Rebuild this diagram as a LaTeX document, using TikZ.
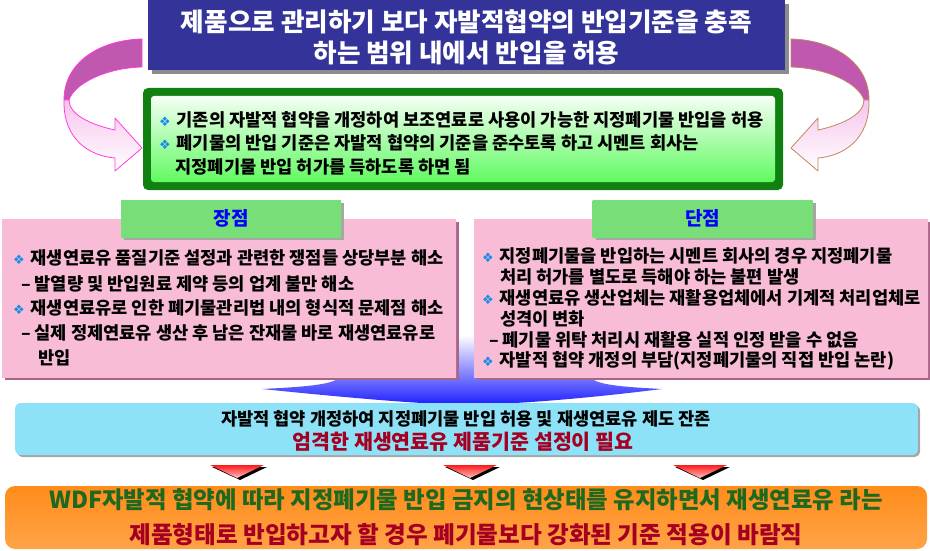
\documentclass[tikz,border=0pt]{standalone}
\usepackage{fontspec}
\setmainfont{Noto Sans CJK KR}
\newfontfamily\symfont{DejaVu Sans}
\usetikzlibrary{positioning,shadows}

\definecolor{titleblue}{RGB}{51,51,153}
\definecolor{framegreen}{RGB}{16,128,16}
\definecolor{litegreen}{RGB}{96,250,96}
\definecolor{headgreen}{RGB}{120,222,120}
\definecolor{headblue}{RGB}{0,0,255}
\definecolor{pinktop}{RGB}{248,188,214}
\definecolor{pinkmid}{RGB}{255,242,248}
\definecolor{pinkshadow}{RGB}{170,100,135}
\definecolor{bulletblue}{RGB}{20,140,230}
\definecolor{funnelblue}{RGB}{30,30,255}
\definecolor{cyanedge}{RGB}{142,226,248}
\definecolor{cyanmid}{RGB}{205,245,255}
\definecolor{orangeedge}{RGB}{255,140,26}
\definecolor{orangemid}{RGB}{255,250,240}
\definecolor{darkred}{RGB}{165,0,33}
\definecolor{darkgreen}{RGB}{30,105,30}
\definecolor{arrowdark}{RGB}{192,88,176}
\definecolor{arrowlight}{RGB}{246,196,236}
\definecolor{arrowpink}{RGB}{255,60,220}
\definecolor{arrowtan}{RGB}{192,136,90}

\newcommand{\pbullet}{{\symfont\color{bulletblue}\fontsize{13}{13}\selectfont ❖}\hspace{6pt}}

\begin{document}
\begin{tikzpicture}[x=1pt,y=-1pt,
    every node/.style={inner sep=0pt, outer sep=0pt},
    txt/.style={anchor=west, font=\bfseries\fontsize{17.6}{19}\selectfont},
    pinkbox/.style={minimum width=454pt, minimum height=158pt, top color=pinktop, middle color=pinkmid, bottom color=pinktop,
        drop shadow={shadow xshift=3pt, shadow yshift=-3pt, opacity=1, fill=pinkshadow}},
    headbox/.style={minimum width=220pt, minimum height=37pt, top color=headgreen, middle color=white, bottom color=headgreen,
        drop shadow={shadow xshift=3pt, shadow yshift=-3pt, opacity=1, fill=black!35},
        text=headblue, font=\bfseries\fontsize{19}{19}\selectfont},
    redtri/.style={top color=red!90!white, bottom color=red!25!white},
    bendarrow/.style={line width=0.8pt, line join=round}]
\useasboundingbox (0,0) rectangle (930,551);

% curved arrows
\fill[arrowdark, draw=arrowpink, bendarrow] (142,39) .. controls (100,40) and (64,62) .. (64,100)
    -- (69,100) .. controls (74,84) and (105,68) .. (142,67) -- cycle;
\path[top color=arrowlight, bottom color=white, draw=arrowpink, bendarrow] (64,100) .. controls (63,140) and (90,156) .. (115,158)
    -- (115,171) -- (142,148) -- (115,118) -- (115,130) .. controls (92,125) and (69,115) .. (69,100) -- cycle;
\begin{scope}[xshift=933pt, xscale=-1]
\fill[arrowdark, draw=arrowtan, bendarrow] (142,39) .. controls (100,40) and (64,62) .. (64,100)
    -- (69,100) .. controls (74,84) and (105,68) .. (142,67) -- cycle;
\path[top color=arrowlight, bottom color=white, draw=arrowtan, bendarrow] (64,100) .. controls (63,140) and (90,156) .. (115,158)
    -- (115,171) -- (142,148) -- (115,118) -- (115,130) .. controls (92,125) and (69,115) .. (69,100) -- cycle;
\end{scope}

% title
\node (title) [fill=titleblue, minimum width=637pt, minimum height=70pt,
    drop shadow={shadow xshift=4pt, shadow yshift=-4pt, opacity=1, fill=black!45}] at (466.5,35) {};
\node (titletext) [align=center, text=white, font=\bfseries\fontsize{25.6}{31}\selectfont] at (466.5,37.5)
    {제품으로 관리하기 보다 자발적협약의 반입기준을 충족\\하는 범위 내에서 반입을 허용};

% green box
\node (rules) [rounded corners=5pt, minimum width=640pt, minimum height=102pt,
    top color=framegreen, middle color=litegreen!80!framegreen, bottom color=framegreen] at (463,139) {};
\node (rulesin) [rounded corners=3pt, minimum width=624pt, minimum height=86pt,
    top color=green!4!white, bottom color=litegreen] at (rules.center) {};
\node (r1) [txt] at (159,120) {\pbullet 기존의 자발적 협약을 개정하여 보조연료로 사용이 가능한 지정폐기물 반입을 허용};
\node (r2) [txt] at (159,143) {\pbullet 폐기물의 반입 기준은 자발적 협약의 기준을 준수토록 하고 시멘트 회사는};
\node (r3) [txt] at (175.5,167) {지정폐기물 반입 허가를 득하도록 하면 됨};

% blue funnel behind the two boxes
\path[top color=white, middle color=funnelblue, bottom color=funnelblue]
    (340,335) -- (340,375) .. controls (340,385) and (300,387) .. (262,389)
    .. controls (350,398) and (420,404) .. (466,405) .. controls (520,404) and (590,398) .. (662,389)
    .. controls (625,387) and (590,385) .. (590,375) -- (590,335) -- cycle;

% pros and cons
\node (pros) [pinkbox] at (229,298) {};
\node (cons) [pinkbox, right=18pt of pros] {};
\node (proshead) [headbox] at (231,218.5) {장점};
\node (conshead) [headbox] at (702.5,218.5) {단점};

\node (p1) [txt] at (13,258) {\pbullet 재생연료유 품질기준 설정과 관련한 쟁점들 상당부분 해소};
\node (p2) [txt] at (21,284) {– 발열량 및 반입원료 제약 등의 업계 불만 해소};
\node (p3) [txt] at (13,308) {\pbullet 재생연료유로 인한 폐기물관리법 내의 형식적 문제점 해소};
\node (p4) [txt] at (21,333) {– 실제 정제연료유 생산 후 남은 잔재물 바로 재생연료유로};
\node (p5) [txt] at (38,358) {반입};

\node (c1) [txt] at (482,256) {\pbullet 지정폐기물을 반입하는 시멘트 회사의 경우 지정폐기물};
\node (c2) [txt] at (500,277) {처리 허가를 별도로 득해야 하는 불편 발생};
\node (c3) [txt] at (482,298) {\pbullet 재생연료유 생산업체는 재활용업체에서 기계적 처리업체로};
\node (c4) [txt] at (500,319) {성격이 변화};
\node (c5) [txt] at (489,340) {– 폐기물 위탁 처리시 재활용 실적 인정 받을 수 없음};
\node (c6) [txt] at (482,361) {\pbullet 자발적 협약 개정의 부담(지정폐기물의 직접 반입 논란)};

% middle conclusion
\node (mid) [rounded corners=6pt, minimum width=903pt, minimum height=52pt,
    top color=cyanedge, middle color=cyanmid, bottom color=cyanedge,
    drop shadow={shadow xshift=2pt, shadow yshift=-2pt, opacity=1, fill=black!35}] at (466.5,429) {};
\node (m1) [font=\bfseries\fontsize{17.6}{19}\selectfont] at (466,419) {자발적 협약 개정하여 지정폐기물 반입 허용 및 재생연료유 제도 잔존};
\node (m2) [font=\bfseries\fontsize{20.6}{21}\selectfont, text=darkred] at (463,442) {엄격한 재생연료유 제품기준 설정이 필요};

% three small arrows
\foreach \cx in {237,470,700} {
    \fill[black] (\cx-25,467) -- (\cx+30,467) -- (\cx+3,480) -- cycle;
    \path[redtri] (\cx-27,465) -- (\cx+27,465) -- (\cx,478) -- cycle;
}

% final box
\node (final) [rounded corners=10pt, minimum width=922pt, minimum height=63pt,
    top color=orangeedge, middle color=orangemid, bottom color=orangeedge!80!white] at (466,517.5) {};
\node (f1) [font=\bfseries\fontsize{23.4}{24}\selectfont, text=darkgreen] at (466,500) {WDF자발적 협약에 따라 지정폐기물 반입 금지의 현상태를 유지하면서 재생연료유 라는};
\node (f2) [font=\bfseries\fontsize{23.6}{24}\selectfont, text=darkred] at (466,535) {제품형태로 반입하고자 할 경우 폐기물보다 강화된 기준 적용이 바람직};
\end{tikzpicture}
\end{document}
